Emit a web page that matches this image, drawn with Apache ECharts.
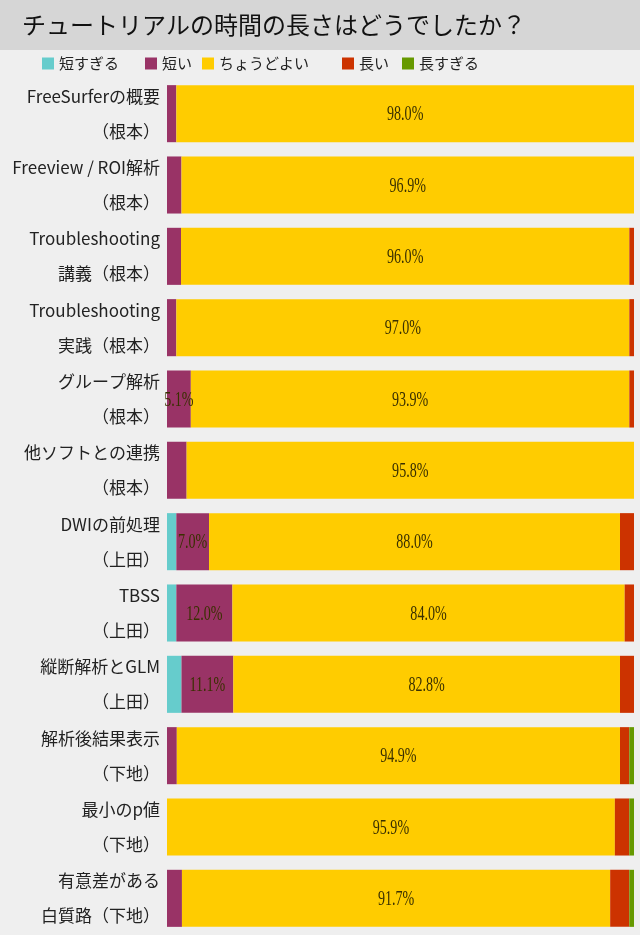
<!DOCTYPE html>
<html>
<head>
<meta charset="utf-8">
<script src="https://cdn.jsdelivr.net/npm/echarts@6/dist/echarts.min.js"></script>
<style>
html, body { margin: 0; padding: 0; background: #efefef; }
#chart { width: 640px; height: 935px; }
</style>
</head>
<body>
<div id="chart"></div>
<script>
// 項目名（2行表示）
var categories = [
    'FreeSurferの概要\n（根本）',
    'Freeview / ROI解析\n（根本）',
    'Troubleshooting\n講義（根本）',
    'Troubleshooting\n実践（根本）',
    'グループ解析\n（根本）',
    '他ソフトとの連携\n（根本）',
    'DWIの前処理\n（上田）',
    'TBSS\n（上田）',
    '縦断解析とGLM\n（上田）',
    '解析後結果表示\n（下地）',
    '最小のp値\n（下地）',
    '有意差がある\n白質路（下地）'
];
var seriesNames = ['短すぎる', '短い', 'ちょうどよい', '長い', '長すぎる'];
var colors = ['#66cccc', '#993366', '#ffcc00', '#cc3300', '#669900'];

// 回答の割合（%）
var tooShort  = [0, 0, 0, 0, 0, 0, 2.0, 2.0, 3.1, 0, 0, 0];
var short     = [2.0, 3.1, 3.0, 2.0, 5.1, 4.2, 7.0, 12.0, 11.1, 2.1, 0, 3.2];
var justRight = [98.0, 96.9, 96.0, 97.0, 93.9, 95.8, 88.0, 84.0, 82.8, 94.9, 95.9, 91.7];
var long      = [0, 0, 1.0, 1.0, 1.0, 0, 3.0, 2.0, 3.0, 2.0, 3.1, 4.1];
var tooLong   = [0, 0, 0, 0, 0, 0, 0, 0, 0, 1.0, 1.0, 1.0];
var allValues = [tooShort, short, justRight, long, tooLong];

var legendLeft = [42, 145, 202, 342, 402];
var labelMin = 5; // これ未満の割合はラベルなし

var chart = echarts.init(document.getElementById('chart'));

var legends = seriesNames.map(function(name, i) {
    return {
        data: [name],
        left: legendLeft[i],
        top: 56,
        padding: 0,
        itemWidth: 12,
        itemHeight: 12,
        icon: 'rect',
        textStyle: { fontSize: 15, color: '#222', fontFamily: 'Noto Sans CJK JP' },
        selectedMode: false
    };
});

var series = seriesNames.map(function(name, i) {
    return {
        name: name,
        type: 'bar',
        stack: 'total',
        barCategoryGap: '20%',
        itemStyle: { color: colors[i] },
        emphasis: { disabled: true },
        data: allValues[i]
    };
});

// ラベル用データ [開始, 終了, 項目番号, 値]
var labelData = [];
categories.forEach(function(c, ci) {
    var acc = 0;
    allValues.forEach(function(arr) {
        var v = arr[ci];
        if (v >= labelMin) {
            labelData.push([acc, acc + v, ci, v]);
        }
        acc += v;
    });
});

series.push({
    type: 'custom',
    z: 10,
    silent: true,
    encode: { x: [0, 1], y: 2 },
    data: labelData,
    renderItem: function(params, api) {
        var pt = api.coord([(api.value(0) + api.value(1)) / 2, api.value(2)]);
        return {
            type: 'text',
            x: pt[0],
            y: pt[1] + 1,
            scaleX: 0.64,
            style: {
                text: api.value(3).toFixed(1) + '%',
                x: 0,
                y: 0,
                align: 'center',
                verticalAlign: 'middle',
                fontSize: 22,
                fontFamily: 'Liberation Serif',
                fill: '#3a3000'
            }
        };
    }
});

var option = {
    backgroundColor: '#efefef',
    animation: false,
    graphic: [{
        type: 'rect',
        left: 0,
        top: 0,
        shape: { width: 640, height: 50 },
        style: { fill: '#d6d6d6' }
    }, {
        type: 'text',
        x: 22,
        y: 25,
        style: {
            text: 'チュートリアルの時間の長さはどうでしたか？',
            fontSize: 24,
            fontFamily: 'Noto Sans CJK JP',
            verticalAlign: 'middle',
            fill: '#111'
        }
    }],
    legend: legends,
    grid: { left: 167, right: 6, top: 78, bottom: 1 },
    xAxis: {
        type: 'value',
        min: 0,
        max: 100,
        show: false
    },
    yAxis: {
        type: 'category',
        inverse: true,
        data: categories,
        axisLine: { show: false },
        axisTick: { show: false },
        axisLabel: {
            margin: 7,
            fontSize: 17,
            lineHeight: 35,
            color: '#222',
            fontFamily: 'Noto Sans CJK JP',
            align: 'right'
        }
    },
    series: series
};

chart.setOption(option);
</script>
</body>
</html>
